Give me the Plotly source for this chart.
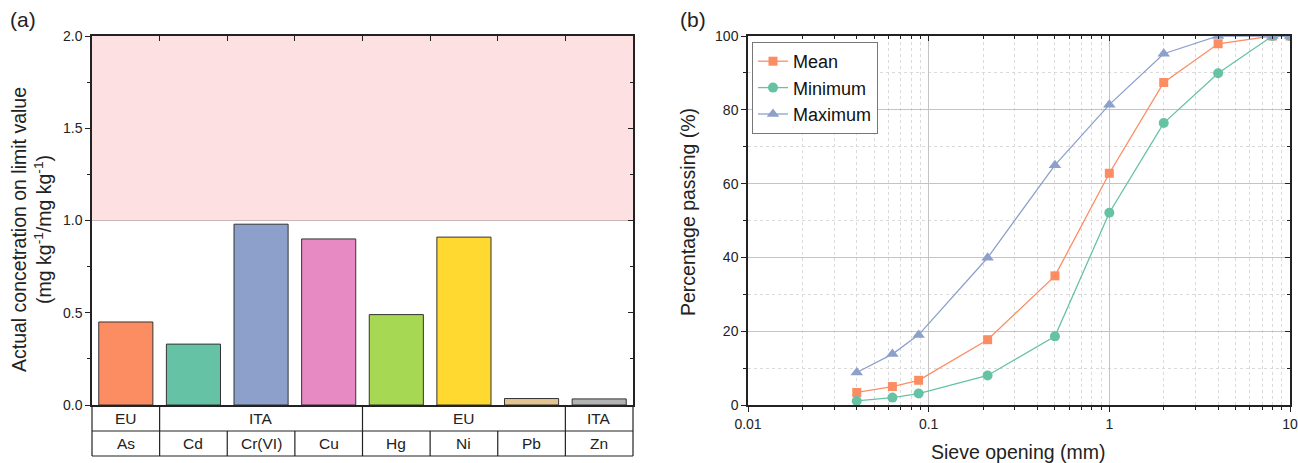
import plotly.graph_objects as go

# ---------------- data ----------------
elements = ["As", "Cd", "Cr(VI)", "Cu", "Hg", "Ni", "Pb", "Zn"]
regulation = ["EU", "ITA", "ITA", "ITA", "EU", "EU", "EU", "ITA"]
ratio = [0.45, 0.33, 0.98, 0.90, 0.49, 0.91, 0.035, 0.033]
bar_colors = ["#FC8D62", "#66C2A5", "#8DA0CB", "#E78AC3", "#A6D854", "#FFD92F", "#E5C494", "#B3B3B3"]

sieve = [0.04, 0.063, 0.088, 0.212, 0.5, 1, 2, 4, 8, 10]
mean_pass = [3.4, 5.0, 6.7, 17.7, 35.0, 62.8, 87.4, 97.9, 100, 100]
min_pass = [1.1, 2.0, 3.1, 8.0, 18.6, 52.1, 76.4, 89.9, 100, 100]
max_pass = [8.8, 13.8, 19.0, 39.9, 65.0, 81.4, 95.2, 100, 100, 100]

W, H = 1298, 463
FONT = "Liberation Sans, Arial, sans-serif"
def px(x): return x / W
def py(y): return 1 - y / H

ya_dom = [py(405), py(36)]
xa_dom = [px(92), px(633)]
xb_dom = [px(748), px(1290)]

fig = go.Figure()

# ---------------- panel (a) ----------------
fig.add_trace(go.Bar(x=list(range(len(elements))), y=ratio, marker=dict(color=bar_colors, line=dict(color="#333333", width=1)),
                     width=0.8, showlegend=False, xaxis="x", yaxis="y"))
fig.add_trace(go.Scatter(x=[None], y=[None], xaxis="x3", yaxis="y3", showlegend=False))

# ---------------- panel (b) ----------------
series = [("Mean", mean_pass, "#FC8D62", "square", 9),
          ("Minimum", min_pass, "#66C2A5", "circle", 10),
          ("Maximum", max_pass, "#8DA0CB", "triangle-up", 11)]
for name, vals, col, sym, size in series:
    fig.add_trace(go.Scatter(x=sieve, y=vals, name=name, mode="lines+markers",
                             line=dict(color=col, width=1.3), marker=dict(symbol=sym, size=size, color=col),
                             xaxis="x2", yaxis="y2"))
fig.add_trace(go.Scatter(x=[None], y=[None], xaxis="x4", yaxis="y4", showlegend=False))

tickfont = dict(family=FONT, size=14, color="#222222")
axline = dict(showline=True, linecolor="#222222", linewidth=1.5, automargin=False)

minor_x = [m * 10 ** e for e in (-2, -1, 0) for m in range(2, 10)]
GRID = "#C4C4C4"
MGRID = "#DADADA"

fig.update_layout(
    width=W, height=H, margin=dict(l=0, r=0, t=0, b=0, autoexpand=False),
    plot_bgcolor="white", paper_bgcolor="white", bargap=0.2,
    font=dict(family=FONT, color="#222222"),
    xaxis=dict(domain=xa_dom, anchor="y", range=[-0.5, 7.5], showticklabels=False, ticks="",
               showgrid=False, zeroline=False, **axline),
    yaxis=dict(domain=ya_dom, anchor="x", range=[0, 2], tickvals=[0, 0.5, 1, 1.5, 2], tickformat=".1f",
               ticks="outside", ticklen=5, tickwidth=1.2, tickcolor="#222222", tickfont=tickfont,
               minor=dict(dtick=0.25, ticks="outside", ticklen=3, tickcolor="#222222"),
               showgrid=False, zeroline=False, **axline),
    xaxis3=dict(domain=xa_dom, overlaying="x", anchor="y3", side="top", range=[-0.5, 7.5],
                tickvals=[i + 0.5 for i in range(len(elements) - 1)], ticks="inside", ticklen=5,
                tickcolor="#222222", showticklabels=False, showgrid=False, zeroline=False, **axline),
    yaxis3=dict(domain=ya_dom, overlaying="y", anchor="x3", side="right", range=[0, 2],
                tickvals=[0, 0.5, 1, 1.5, 2], ticks="inside", ticklen=5, tickcolor="#222222",
                minor=dict(dtick=0.25, ticks="inside", ticklen=3, tickcolor="#222222"),
                showticklabels=False, showgrid=False, zeroline=False, **axline),
    xaxis2=dict(domain=xb_dom, anchor="y2", type="log", range=[-2, 1], tickvals=[0.01, 0.1, 1, 10],
                ticktext=["0.01", "0.1", "1", "10"], ticks="outside", ticklen=5, tickcolor="#222222",
                tickfont=tickfont, showgrid=True, gridcolor=GRID, gridwidth=1.3, ticklabeloverflow="allow",
                minor=dict(tickvals=minor_x, ticks="outside", ticklen=3, tickcolor="#222222",
                           showgrid=True, gridcolor=MGRID, griddash="dot", gridwidth=1),
                zeroline=False, **axline),
    yaxis2=dict(domain=ya_dom, anchor="x2", range=[0, 100], tickvals=[0, 20, 40, 60, 80, 100],
                ticks="outside", ticklen=5, tickcolor="#222222", tickfont=tickfont,
                showgrid=True, gridcolor=GRID, gridwidth=1.3,
                minor=dict(dtick=10, ticks="outside", ticklen=3, tickcolor="#222222",
                           showgrid=True, gridcolor=MGRID, griddash="dot", gridwidth=1),
                zeroline=False, **axline),
    xaxis4=dict(domain=xb_dom, overlaying="x2", anchor="y4", side="top", type="log", range=[-2, 1],
                tickvals=[0.01, 0.1, 1, 10], ticks="inside", ticklen=5, tickcolor="#222222",
                minor=dict(tickvals=minor_x, ticks="inside", ticklen=3, tickcolor="#222222"),
                showticklabels=False, showgrid=False, zeroline=False, **axline),
    yaxis4=dict(domain=ya_dom, overlaying="y2", anchor="x4", side="right", range=[0, 100],
                tickvals=[0, 20, 40, 60, 80, 100], ticks="inside", ticklen=5, tickcolor="#222222",
                minor=dict(dtick=10, ticks="inside", ticklen=3, tickcolor="#222222"),
                showticklabels=False, showgrid=False, zeroline=False, **axline),
    legend=dict(x=px(752), y=py(42), xanchor="left", yanchor="top", bordercolor="#777777", borderwidth=1,
                bgcolor="white", font=dict(family=FONT, size=18, color="#111111"), tracegroupgap=0,
                itemwidth=30),
)

shapes = []
# limit exceedance region
shapes.append(dict(type="rect", xref="x", yref="y", x0=-0.5, x1=7.5, y0=1, y1=2, fillcolor="#FDE0E1",
                   line=dict(width=0), layer="below"))
shapes.append(dict(type="line", xref="x", yref="y", x0=-0.5, x1=7.5, y0=1, y1=1,
                   line=dict(color="#C9B7B8", width=1.2), layer="below"))

# table below panel (a)
n = len(elements)
y_top, y_mid, y_bot = py(405), py(431), py(456)
tline = dict(color="#222222", width=1.2)
for yy in (y_mid, y_bot):
    shapes.append(dict(type="line", xref="paper", yref="paper", x0=xa_dom[0], x1=xa_dom[1], y0=yy, y1=yy, line=tline))
def xpaper(v):
    return xa_dom[0] + (v + 0.5) / n * (xa_dom[1] - xa_dom[0])
for i in range(n + 1):
    b = i - 0.5
    full = i == 0 or i == n or regulation[i - 1] != regulation[i]
    shapes.append(dict(type="line", xref="paper", yref="paper", x0=xpaper(b), x1=xpaper(b),
                       y0=y_top if full else y_mid, y1=y_bot, line=tline))

annotations = []
tfont = dict(family=FONT, size=15.5, color="#222222")
for i, el in enumerate(elements):
    annotations.append(dict(x=xpaper(i), y=(y_mid + y_bot) / 2, xref="paper", yref="paper", text=el,
                            showarrow=False, font=tfont, xanchor="center", yanchor="middle"))
start = 0
for i in range(1, n + 1):
    if i == n or regulation[i] != regulation[start]:
        annotations.append(dict(x=xpaper((start + i - 1) / 2), y=(y_top + y_mid) / 2, xref="paper", yref="paper",
                                text=regulation[start], showarrow=False, font=tfont,
                                xanchor="center", yanchor="middle"))
        start = i

tt = dict(family=FONT, size=19.5, color="#222222")
annotations.append(dict(x=px(31), y=py(230), xref="paper", yref="paper", textangle=-90, showarrow=False,
                        text="Actual concetration on limit value<br>(mg kg<sup>-1</sup>/mg kg<sup>-1</sup>)",
                        font=tt, xanchor="center", yanchor="middle"))
annotations.append(dict(x=px(688), y=py(212), xref="paper", yref="paper", textangle=-90, showarrow=False,
                        text="Percentage passing (%)", font=tt, xanchor="center", yanchor="middle"))
annotations.append(dict(x=px(1018), y=py(452), xref="paper", yref="paper", showarrow=False,
                        text="Sieve opening (mm)", font=tt, xanchor="center", yanchor="middle"))
annotations.append(dict(x=px(8), y=py(19), xref="paper", yref="paper", text="(a)", showarrow=False,
                        font=dict(family=FONT, size=21, color="#222222"), xanchor="left", yanchor="middle"))
annotations.append(dict(x=px(678), y=py(19), xref="paper", yref="paper", text="(b)", showarrow=False,
                        font=dict(family=FONT, size=21, color="#222222"), xanchor="left", yanchor="middle"))

fig.update_layout(shapes=shapes, annotations=annotations)
# remove the default page margin so the figure fills the window exactly
fig.write_html("out.html", config={"displayModeBar": False},
               post_script="document.body.style.margin='0';document.body.style.overflow='hidden';")
